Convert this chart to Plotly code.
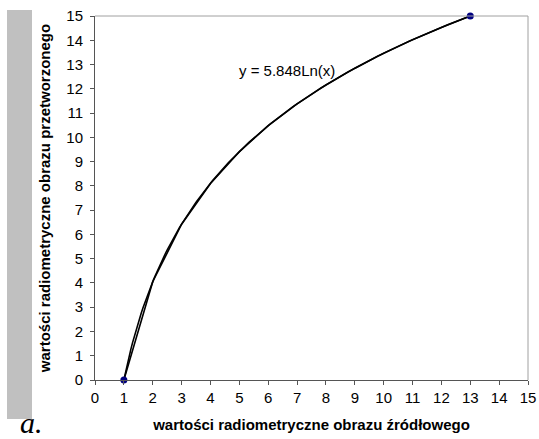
import numpy as np
import plotly.graph_objects as go

# data
x_data = [1, 2, 3, 4, 5, 6, 7, 8, 9, 10, 11, 12, 13]
y_data = [0, 4.05, 6.42, 8.1, 9.41, 10.48, 11.38, 12.16, 12.85, 13.47, 14.02, 14.53, 15]
x_marks = [1, 13]
y_marks = [0, 15]
trend_coef = 5.848
x_ticks = list(range(0, 16))
y_ticks = list(range(0, 16))

W, H = 539, 439
L, R, T, B = 95, 11, 16, 59
pw, ph = W - L - R, H - T - B

def px(xp):
    return (xp - L) / pw

def py(yp):
    return (H - B - yp) / ph

xt = np.linspace(1, 13, 200)
yt = trend_coef * np.log(xt)

fig = go.Figure()
fig.add_trace(go.Scatter(x=x_data, y=y_data, mode="lines",
                         line=dict(color="black", width=1.6), hoverinfo="skip"))
fig.add_trace(go.Scatter(x=xt, y=yt, mode="lines",
                         line=dict(color="black", width=1.6), hoverinfo="skip"))
fig.add_trace(go.Scatter(x=x_marks, y=y_marks, mode="markers", cliponaxis=False,
                         marker=dict(color="#000080", size=7), hoverinfo="skip"))

fig.update_layout(
    width=W, height=H, margin=dict(l=L, r=R, t=T, b=B),
    paper_bgcolor="white", plot_bgcolor="white", showlegend=False,
    font=dict(family="Arial, Liberation Sans", color="black", size=15),
    xaxis=dict(range=[0, 15], tickvals=x_ticks, ticks="outside", ticklen=4,
               tickcolor="#555", showgrid=False, zeroline=False, automargin=False,
               showline=True, linecolor="#555", linewidth=1,
               tickfont=dict(size=15),
               title=dict(text="<b>wartości radiometryczne obrazu źródłowego</b>",
                          font=dict(size=15), standoff=14)),
    yaxis=dict(range=[0, 15], tickvals=y_ticks, ticks="outside", ticklen=4,
               tickcolor="#555", showgrid=False, zeroline=False, automargin=False,
               showline=True, linecolor="#555", linewidth=1,
               tickfont=dict(size=15), ticklabelstandoff=4,
               title=dict(text="<b>wartości radiometryczne obrazu przetworzonego</b>",
                          font=dict(size=15), standoff=12)),
    shapes=[
        dict(type="rect", xref="paper", yref="paper", x0=px(7), x1=px(32),
             y0=py(419), y1=py(10), fillcolor="#c0c0c0", line=dict(width=0), layer="below"),
        dict(type="line", xref="paper", yref="paper", x0=0, x1=1, y0=1, y1=1,
             line=dict(color="#a0a0a0", width=1)),
        dict(type="line", xref="paper", yref="paper", x0=1, x1=1, y0=0, y1=1,
             line=dict(color="#a0a0a0", width=1)),
    ],
    annotations=[
        dict(text="y = 5.848Ln(x)", x=px(287), y=py(60), xref="paper", yref="paper",
             showarrow=False, font=dict(size=15)),
        dict(text="<i>a.</i>", x=px(18), y=py(441), xref="paper", yref="paper",
             showarrow=False, font=dict(size=30, family="Liberation Serif, Times New Roman")),
    ],
)
fig.write_html("out.html")
